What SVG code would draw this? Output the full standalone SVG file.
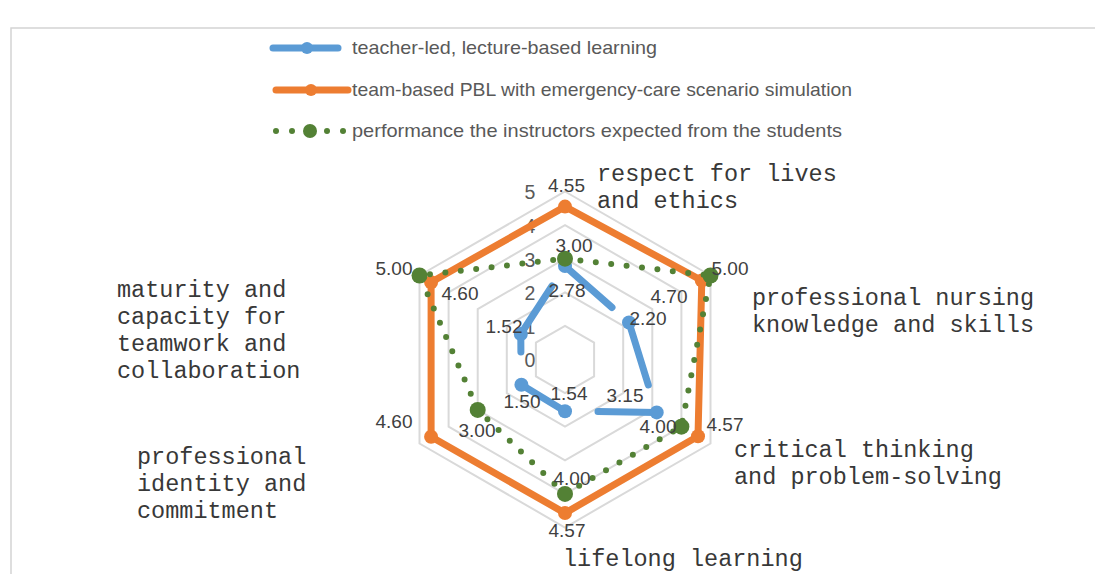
<svg xmlns="http://www.w3.org/2000/svg" width="1095" height="574" viewBox="0 0 1095 574">
<style>
.grid{fill:none;stroke:#d9d9d9;stroke-width:2}
.blue{fill:none;stroke:#5b9bd5;stroke-width:7;stroke-linecap:round;stroke-linejoin:round}
.orange{fill:none;stroke:#ed7d31;stroke-width:7;stroke-linejoin:round}
.green{fill:none;stroke:#538135;stroke-width:6;stroke-linecap:round;stroke-dasharray:0 15.5}
.bm{fill:#5b9bd5}
.om{fill:#ed7d31}
.gm{fill:#538135}
.dl{font-family:"Liberation Sans",Arial,sans-serif;font-size:19px;fill:#404040;text-anchor:middle}
.ax{font-family:"Liberation Sans",Arial,sans-serif;font-size:19.5px;fill:#595959;text-anchor:middle}
.cat{font-family:"Liberation Mono","Courier New",monospace;font-size:23.5px;fill:#383838}
.lg{font-family:"Liberation Sans",Arial,sans-serif;font-size:19px;fill:#595959}
</style>
<rect x="11" y="28" width="1200" height="700" fill="#ffffff" stroke="#d4d4d4" stroke-width="1.5"/>
<g id="legend">
<line x1="273" y1="48" x2="338" y2="48" class="blue"/>
<circle cx="307" cy="48" r="6" class="bm"/>
<text x="352" y="54" class="lg" textLength="305" lengthAdjust="spacingAndGlyphs">teacher-led, lecture-based learning</text>
<line x1="276" y1="90" x2="348" y2="90" class="orange" style="stroke-linecap:round"/>
<circle cx="311" cy="90" r="6" class="om"/>
<text x="352" y="96" class="lg" textLength="500" lengthAdjust="spacingAndGlyphs">team-based PBL with emergency-care scenario simulation</text>
<circle cx="276" cy="131" r="3" class="gm"/>
<circle cx="292" cy="131" r="3" class="gm"/>
<circle cx="310" cy="131" r="7" class="gm"/>
<circle cx="327" cy="131" r="3" class="gm"/>
<circle cx="343" cy="131" r="3" class="gm"/>
<text x="352" y="137" class="lg" textLength="490" lengthAdjust="spacingAndGlyphs">performance the instructors expected from the students</text>
</g>
<g id="grid">
<polygon class="grid" points="565,325.9 594.1,342.7 594.1,376.3 565,393.1 535.9,376.3 535.9,342.7"/>
<polygon class="grid" points="565,292.3 623.2,325.9 623.2,393.1 565,426.7 506.8,393.1 506.8,325.9"/>
<polygon class="grid" points="565,258.7 652.3,309.1 652.3,409.9 565,460.3 477.7,409.9 477.7,309.1"/>
<polygon class="grid" points="565,225.1 681.4,292.3 681.4,426.7 565,494.0 448.6,426.7 448.6,292.3"/>
<polygon class="grid" points="565,191.5 710.5,275.5 710.5,443.5 565,527.5 419.5,443.5 419.5,275.5"/>
</g>
<g id="axis-labels">
<text x="530" y="199.3" class="ax">5</text>
<text x="530" y="233" class="ax">4</text>
<text x="530" y="266.7" class="ax">3</text>
<text x="530" y="300" class="ax">2</text>
<text x="530" y="333.6" class="ax">1</text>
<text x="530" y="367" class="ax">0</text>
</g>
<g id="connectors">
<g id="series-teacher-led">
<line class="blue" x1="565" y1="266.1" x2="612" y2="307.5"/>
<line class="blue" x1="629" y1="322.5" x2="648.3" y2="385"/>
<line class="blue" x1="656.7" y1="412.4" x2="598" y2="411.6"/>
<line class="blue" x1="565" y1="411.2" x2="521.4" y2="384.7"/>
<line class="blue" x1="520.8" y1="334" x2="520.9" y2="352"/>
<line class="blue" x1="520.8" y1="334" x2="552" y2="286"/>
<circle class="bm" cx="565" cy="266.1" r="7"/>
<circle class="bm" cx="629" cy="322.5" r="7"/>
<circle class="bm" cx="656.7" cy="412.4" r="7"/>
<circle class="bm" cx="565" cy="411.2" r="7"/>
<circle class="bm" cx="521.4" cy="384.7" r="7"/>
<circle class="bm" cx="520.8" cy="334" r="7"/>
</g>
<g id="series-team-pbl">
<polygon class="orange" points="565,206.6 701.8,280.5 698,436.3 565,513.1 431.1,436.8 431.1,282.2"/>
<circle class="om" cx="565" cy="206.6" r="7"/>
<circle class="om" cx="701.8" cy="280.5" r="7"/>
<circle class="om" cx="698" cy="436.3" r="7"/>
<circle class="om" cx="565" cy="513.1" r="7"/>
<circle class="om" cx="431.1" cy="436.8" r="7"/>
<circle class="om" cx="431.1" cy="282.2" r="7"/>
</g>
<g id="series-expected">
<polygon class="green" points="565,258.7 710.5,275.5 681.4,426.7 565,493.9 477.7,409.9 419.5,275.5"/>
<circle class="gm" cx="565" cy="258.7" r="8"/>
<circle class="gm" cx="710.5" cy="275.5" r="8"/>
<circle class="gm" cx="681.4" cy="426.7" r="8"/>
<circle class="gm" cx="565" cy="493.9" r="8"/>
<circle class="gm" cx="477.7" cy="409.9" r="8"/>
<circle class="gm" cx="419.5" cy="275.5" r="8"/>
</g>
</g>
<g id="data-labels">
<text x="567" y="297" class="dl">2.78</text>
<text x="648" y="325" class="dl">2.20</text>
<text x="625" y="402" class="dl">3.15</text>
<text x="569" y="400" class="dl">1.54</text>
<text x="522" y="408" class="dl">1.50</text>
<text x="504" y="333" class="dl">1.52</text>
<text x="566.5" y="191.5" class="dl">4.55</text>
<text x="669" y="303" class="dl">4.70</text>
<text x="725" y="431" class="dl">4.57</text>
<text x="567" y="536.7" class="dl">4.57</text>
<text x="394" y="428" class="dl">4.60</text>
<text x="460" y="300" class="dl">4.60</text>
<text x="574" y="251.7" class="dl">3.00</text>
<text x="730" y="275" class="dl">5.00</text>
<text x="658" y="433" class="dl">4.00</text>
<text x="572" y="485" class="dl">4.00</text>
<text x="477" y="436.7" class="dl">3.00</text>
<text x="394" y="275" class="dl">5.00</text>
</g>
<g id="cat-respect"><text class="cat" x="597" y="181"><tspan x="597">respect for lives</tspan><tspan x="597" y="208">and ethics</tspan></text></g>
<g id="cat-nursing"><text class="cat" x="752" y="305"><tspan x="752">professional nursing</tspan><tspan x="752" y="332">knowledge and skills</tspan></text></g>
<g id="cat-critical"><text class="cat" x="734" y="457"><tspan x="734">critical thinking</tspan><tspan x="734" y="484">and problem-solving</tspan></text></g>
<g id="cat-lifelong"><text class="cat" x="563" y="566">lifelong learning</text></g>
<g id="cat-identity"><text class="cat" x="137" y="464"><tspan x="137">professional</tspan><tspan x="137" y="491">identity and</tspan><tspan x="137" y="518">commitment</tspan></text></g>
<g id="cat-maturity"><text class="cat" x="117" y="297"><tspan x="117">maturity and</tspan><tspan x="117" y="324">capacity for</tspan><tspan x="117" y="351">teamwork and</tspan><tspan x="117" y="378">collaboration</tspan></text></g>
</svg>
